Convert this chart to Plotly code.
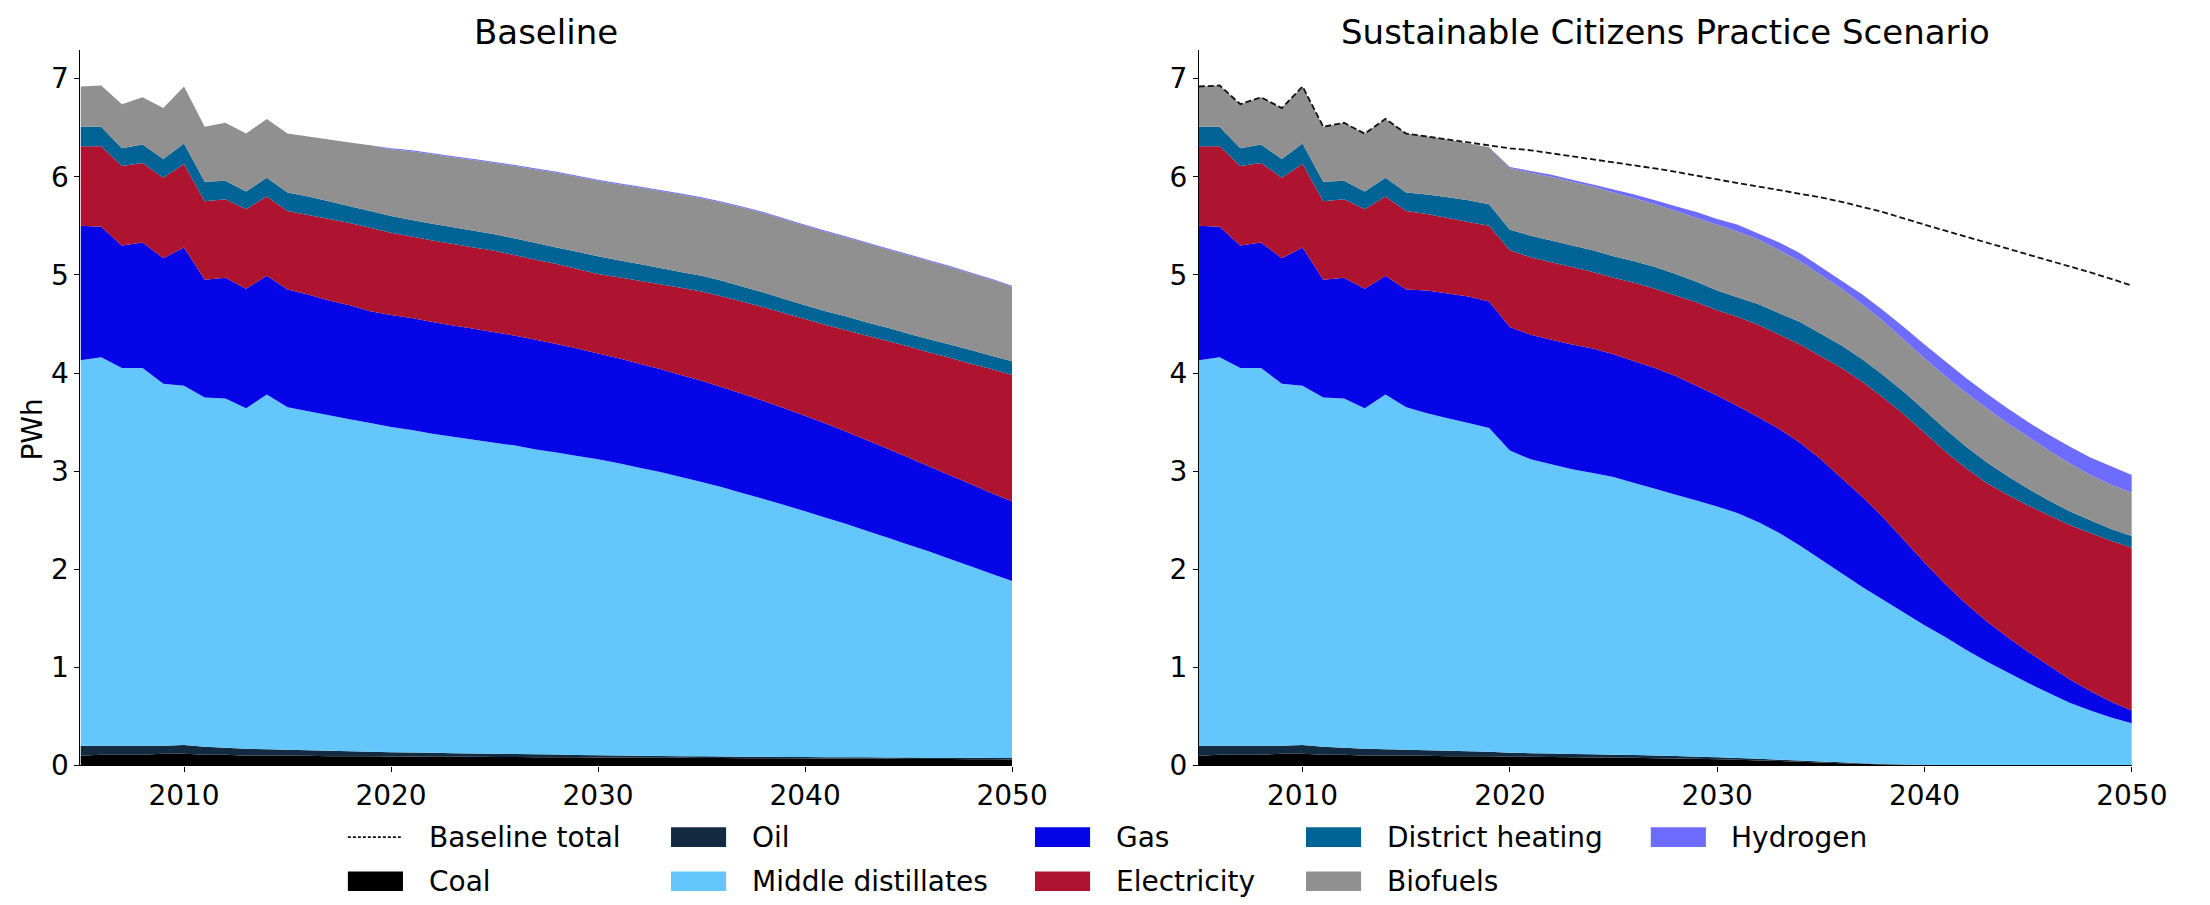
import plotly.graph_objects as go

W, H = 2210, 905
years = list(range(2005, 2051))

# ---- Baseline: upper edge of each stacked layer (PWh) ----
b_coal_edge = [0.10, 0.11, 0.11, 0.11, 0.12, 0.12, 0.11, 0.11, 0.10, 0.10, 0.10,
               0.10, 0.095, 0.095, 0.093, 0.092,
               0.091, 0.090, 0.089, 0.088, 0.087,
               0.086, 0.085, 0.084, 0.083, 0.082,
               0.081, 0.080, 0.079, 0.078, 0.077,
               0.076, 0.075, 0.074, 0.073, 0.072,
               0.071, 0.070, 0.069, 0.068, 0.067,
               0.066, 0.065, 0.064, 0.063, 0.062]
b_oil_edge = [0.20, 0.20, 0.20, 0.20, 0.20, 0.21, 0.19, 0.18, 0.17, 0.165, 0.16,
              0.155, 0.15, 0.145, 0.14, 0.135,
              0.132, 0.129, 0.126, 0.123, 0.12,
              0.117, 0.114, 0.111, 0.108, 0.105,
              0.102, 0.099, 0.097, 0.095, 0.093,
              0.091, 0.089, 0.088, 0.087, 0.086,
              0.085, 0.084, 0.083, 0.082, 0.081,
              0.080, 0.079, 0.078, 0.077, 0.076]
b_md_edge = [4.13, 4.16, 4.05, 4.05, 3.89, 3.87, 3.75, 3.74, 3.64, 3.78, 3.65,
             3.61, 3.57, 3.53, 3.49, 3.45,
             3.42, 3.38, 3.35, 3.32, 3.29,
             3.26, 3.22, 3.19, 3.155, 3.12,
             3.08, 3.035, 2.99, 2.94, 2.89,
             2.835, 2.775, 2.715, 2.655, 2.59,
             2.525, 2.46, 2.39, 2.32, 2.25,
             2.18, 2.105, 2.03, 1.955, 1.88]
b_gas_edge = [5.50, 5.49, 5.30, 5.33, 5.17, 5.28, 4.95, 4.97, 4.86, 4.99, 4.85,
              4.80, 4.74, 4.69, 4.63, 4.59,
              4.56, 4.52, 4.485, 4.45, 4.415,
              4.38, 4.34, 4.295, 4.25, 4.20,
              4.15, 4.095, 4.04, 3.98, 3.92,
              3.855, 3.787, 3.716, 3.642, 3.565,
              3.485, 3.402, 3.316, 3.228, 3.138,
              3.048, 2.958, 2.868, 2.778, 2.69]
b_elec_edge = [6.31, 6.31, 6.11, 6.14, 5.99, 6.13, 5.75, 5.77, 5.67, 5.80, 5.65,
               5.61, 5.57, 5.53, 5.48, 5.43,
               5.39, 5.35, 5.315, 5.28, 5.245,
               5.20, 5.155, 5.11, 5.06, 5.01,
               4.975, 4.94, 4.905, 4.87, 4.83,
               4.78, 4.725, 4.67, 4.61, 4.55,
               4.49, 4.435, 4.38, 4.325, 4.27,
               4.21, 4.155, 4.095, 4.04, 3.98]
b_dh_edge = [6.51, 6.51, 6.29, 6.33, 6.18, 6.34, 5.95, 5.96, 5.85, 5.99, 5.84,
             5.80, 5.75, 5.70, 5.65, 5.60,
             5.56, 5.52, 5.485, 5.45, 5.415,
             5.37, 5.325, 5.28, 5.235, 5.19,
             5.15, 5.11, 5.07, 5.03, 4.99,
             4.94, 4.88, 4.82, 4.755, 4.69,
             4.63, 4.575, 4.515, 4.46, 4.40,
             4.345, 4.29, 4.235, 4.175, 4.12]
b_bio_edge = [6.92, 6.93, 6.74, 6.81, 6.70, 6.92, 6.51, 6.55, 6.44, 6.59, 6.44,
              6.41, 6.38, 6.35, 6.32, 6.28,
              6.26, 6.23, 6.20, 6.17, 6.14,
              6.11, 6.075, 6.04, 6.00, 5.96,
              5.925, 5.89, 5.855, 5.82, 5.78,
              5.735, 5.685, 5.63, 5.565, 5.50,
              5.44, 5.38, 5.32, 5.26, 5.20,
              5.14, 5.08, 5.015, 4.95, 4.88]
b_total = [6.92, 6.93, 6.74, 6.81, 6.70, 6.92, 6.51, 6.55, 6.44, 6.59, 6.44,
           6.41, 6.38, 6.35, 6.32, 6.29,
           6.27, 6.24, 6.21, 6.18, 6.15,
           6.12, 6.085, 6.05, 6.01, 5.97,
           5.935, 5.90, 5.865, 5.83, 5.79,
           5.745, 5.695, 5.64, 5.575, 5.51,
           5.45, 5.39, 5.33, 5.27, 5.21,
           5.15, 5.09, 5.025, 4.96, 4.89]

# ---- Sustainable Citizens Practice: history (2005-2015) equals baseline ----
N_HIST = 11
s_coal_edge = b_coal_edge[:N_HIST] + [
    0.10, 0.095, 0.095, 0.093, 0.090,
    0.088, 0.086, 0.084, 0.082, 0.080,
    0.078, 0.075, 0.072, 0.068, 0.064,
    0.058, 0.052, 0.045, 0.038, 0.031,
    0.024, 0.017, 0.011, 0.006, 0.003,
    0.001, 0.0, 0.0, 0.0, 0.0,
    0.0, 0.0, 0.0, 0.0, 0.0]
s_oil_edge = b_oil_edge[:N_HIST] + [
    0.155, 0.15, 0.145, 0.14, 0.13,
    0.126, 0.122, 0.118, 0.114, 0.11,
    0.106, 0.101, 0.096, 0.090, 0.084,
    0.076, 0.068, 0.059, 0.050, 0.041,
    0.032, 0.023, 0.015, 0.009, 0.005,
    0.002, 0.0, 0.0, 0.0, 0.0,
    0.0, 0.0, 0.0, 0.0, 0.0]
s_md_edge = b_md_edge[:N_HIST] + [
    3.59, 3.54, 3.49, 3.44, 3.21,
    3.12, 3.07, 3.02, 2.98, 2.94,
    2.88, 2.82, 2.76, 2.70, 2.64,
    2.57, 2.48, 2.37, 2.24, 2.10,
    1.96, 1.82, 1.69, 1.56, 1.43,
    1.31, 1.18, 1.06, 0.95, 0.84,
    0.74, 0.64, 0.56, 0.49, 0.43]
s_gas_edge = b_gas_edge[:N_HIST] + [
    4.84, 4.81, 4.78, 4.73, 4.47,
    4.39, 4.34, 4.29, 4.25, 4.19,
    4.12, 4.05, 3.97, 3.87, 3.77,
    3.66, 3.55, 3.43, 3.29, 3.12,
    2.93, 2.74, 2.53, 2.30, 2.07,
    1.85, 1.65, 1.47, 1.31, 1.16,
    1.02, 0.88, 0.76, 0.65, 0.56]
s_elec_edge = b_elec_edge[:N_HIST] + [
    5.62, 5.58, 5.54, 5.50, 5.25,
    5.18, 5.13, 5.08, 5.03, 4.97,
    4.92, 4.86, 4.79, 4.72, 4.64,
    4.57, 4.49, 4.39, 4.29, 4.17,
    4.05, 3.91, 3.75, 3.58, 3.39,
    3.20, 3.03, 2.88, 2.76, 2.65,
    2.55, 2.45, 2.37, 2.29, 2.22]
s_dh_edge = b_dh_edge[:N_HIST] + [
    5.82, 5.79, 5.76, 5.72, 5.46,
    5.40, 5.35, 5.30, 5.25, 5.19,
    5.14, 5.08, 5.01, 4.93, 4.84,
    4.77, 4.70, 4.61, 4.52, 4.40,
    4.28, 4.14, 3.98, 3.81, 3.62,
    3.43, 3.25, 3.09, 2.95, 2.82,
    2.70, 2.59, 2.50, 2.41, 2.34]
s_bio_edge = b_bio_edge[:N_HIST] + [
    6.41, 6.38, 6.34, 6.30, 6.09,
    6.04, 6.00, 5.95, 5.90, 5.84,
    5.78, 5.72, 5.65, 5.58, 5.51,
    5.44, 5.36, 5.25, 5.14, 5.00,
    4.86, 4.70, 4.53, 4.34, 4.15,
    3.97, 3.80, 3.64, 3.49, 3.35,
    3.21, 3.08, 2.96, 2.86, 2.78]
s_total = b_total[:N_HIST] + [
    6.41, 6.38, 6.34, 6.30, 6.10,
    6.06, 6.02, 5.97, 5.92, 5.87,
    5.82, 5.76, 5.70, 5.64, 5.57,
    5.51, 5.42, 5.33, 5.22, 5.08,
    4.94, 4.80, 4.64, 4.47, 4.29,
    4.12, 3.95, 3.79, 3.64, 3.50,
    3.37, 3.25, 3.14, 3.05, 2.96]

fuels = ["Coal", "Oil", "Middle distillates", "Gas", "Electricity",
         "District heating", "Biofuels", "Hydrogen"]
colors = {"Coal": "#000000", "Oil": "#132B40", "Middle distillates": "#64C7FC",
          "Gas": "#0505E8", "Electricity": "#AE1330", "District heating": "#006396",
          "Biofuels": "#909090", "Hydrogen": "#6E6CFF"}

baseline_edges = [b_coal_edge, b_oil_edge, b_md_edge, b_gas_edge, b_elec_edge,
                  b_dh_edge, b_bio_edge, b_total]
scenario_edges = [s_coal_edge, s_oil_edge, s_md_edge, s_gas_edge, s_elec_edge,
                  s_dh_edge, s_bio_edge, s_total]


def layer_values(edges):
    out, prev = [], [0.0] * len(years)
    for e in edges:
        out.append([round(max(a - b, 0.0), 4) for a, b in zip(e, prev)])
        prev = e
    return out


FONT = "DejaVu Sans"
fig = go.Figure()

for grp, (edges, xa, ya) in enumerate([(baseline_edges, "x", "y"),
                                        (scenario_edges, "x2", "y2")]):
    for name, vals in zip(fuels, layer_values(edges)):
        fig.add_trace(go.Scatter(
            x=years, y=vals, name=name, stackgroup=f"g{grp}", mode="none",
            fillcolor=colors[name], xaxis=xa, yaxis=ya, showlegend=False,
            hovertemplate=name + " %{x}: %{y:.2f} PWh<extra></extra>"))

fig.add_trace(go.Scatter(
    x=years, y=b_total, name="Baseline total", mode="lines",
    line=dict(color="#111111", width=1.8, dash="6px,3px"),
    xaxis="x2", yaxis="y2", showlegend=False))


def px(v):
    return v / W


def py(v):
    return (H - v) / H


ydom = [py(772), py(43)]
axis_common = dict(showline=True, linecolor="black", linewidth=1.1, ticks="outside",
                   ticklen=5, tickwidth=1.1, tickcolor="black", showgrid=False,
                   zeroline=False, tickfont=dict(family=FONT, size=28, color="black"))

fig.update_layout(
    width=W, height=H, autosize=False,
    margin=dict(l=0, r=0, t=0, b=0),
    paper_bgcolor="white", plot_bgcolor="white",
    font=dict(family=FONT, size=28, color="black"),
    xaxis=dict(domain=[px(73.7), px(1020.7)], range=[2005, 2050],
               tickvals=[2010, 2020, 2030, 2040, 2050], anchor="y", **axis_common),
    yaxis=dict(domain=ydom, range=[0, 7.29], tick0=0, dtick=1, anchor="x", **axis_common),
    xaxis2=dict(domain=[px(1210.6), px(2159)], range=[2005, 2050],
                tickvals=[2010, 2020, 2030, 2040, 2050], anchor="y2", **axis_common),
    yaxis2=dict(domain=ydom, range=[0, 7.29], tick0=0, dtick=1, anchor="x2", **axis_common),
    hovermode="closest",
)

annotations = [
    dict(text="Baseline", x=px(547), y=py(24), xanchor="center", yanchor="middle",
         font=dict(family=FONT, size=34, color="black")),
    dict(text="Sustainable Citizens Practice Scenario", x=px(1685), y=py(24),
         xanchor="center", yanchor="middle", font=dict(family=FONT, size=34, color="black")),
    dict(text="PWh", x=px(25), y=py(430), xanchor="center", yanchor="middle",
         textangle=-90, font=dict(family=FONT, size=28, color="black")),
]

shapes = []
# legend: (label, kind, swatch x0, row)
legend_items = [
    ("Baseline total", "line", 345.5, 0),
    ("Oil", "patch", 674, 0),
    ("Gas", "patch", 1044, 0),
    ("District heating", "patch", 1319.5, 0),
    ("Hydrogen", "patch", 1670, 0),
    ("Coal", "patch", 345.5, 1),
    ("Middle distillates", "patch", 674, 1),
    ("Electricity", "patch", 1044, 1),
    ("Biofuels", "patch", 1319.5, 1),
]
row_y = [845, 890]
SW, SH = 56, 20
for label, kind, x0, row in legend_items:
    yc = row_y[row]
    if kind == "line":
        shapes.append(dict(type="line", xref="paper", yref="paper",
                           x0=px(x0), x1=px(x0 + SW), y0=py(yc), y1=py(yc),
                           line=dict(color="#111111", width=1.6, dash="3px,2px")))
    else:
        shapes.append(dict(type="rect", xref="paper", yref="paper",
                           x0=px(x0), x1=px(x0 + SW), y0=py(yc + SH / 2), y1=py(yc - SH / 2),
                           fillcolor=colors[label], line=dict(width=0)))
    annotations.append(dict(text=label, x=px(x0 + SW + 24), y=py(yc), xanchor="left",
                            yanchor="middle", font=dict(family=FONT, size=28, color="black")))

for a in annotations:
    a.update(xref="paper", yref="paper", showarrow=False)

fig.update_layout(annotations=annotations, shapes=shapes)
fig.write_html("out.html")
